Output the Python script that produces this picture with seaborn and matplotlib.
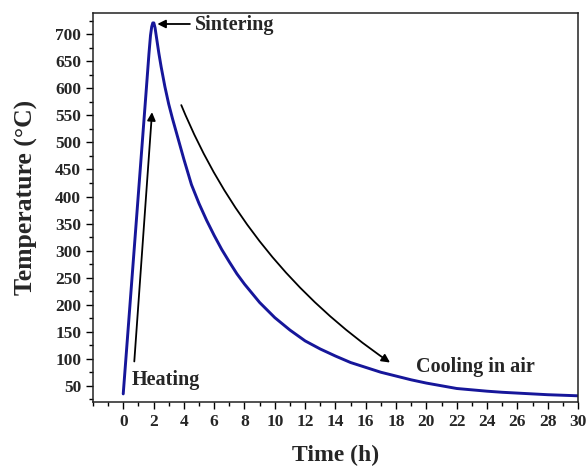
import matplotlib
matplotlib.use("Agg")
import matplotlib.pyplot as plt
import seaborn as sns
import pandas as pd
from matplotlib.ticker import MultipleLocator

# data
time_h = [0, 0.5, 1.0, 1.5, 1.7, 1.8, 1.88, 1.95, 2.02, 2.1, 2.2, 2.35, 2.5, 2.75, 3.0, 3.25, 3.5,
          4, 4.5, 5, 5.5, 6, 6.5, 7, 7.5, 8, 9, 10, 11, 12, 13, 14, 15, 16, 17, 18, 19, 20,
          21, 22, 23, 24, 25, 26, 27, 28, 29, 30]
temp_c = [35, 220, 405, 590, 665, 698, 714, 721, 721, 712, 693, 665, 640, 603, 571, 544, 519,
          469, 422, 387, 356, 328, 302, 279, 257, 238, 204, 176, 153, 133, 118, 105, 93, 84, 75, 68, 61, 55,
          50, 45, 42.5, 40, 38, 36.5, 35, 33.5, 32.5, 31.5]

x_ticks = list(range(0, 31, 2))
y_ticks = list(range(50, 701, 50))

df = pd.DataFrame({"Time (h)": time_h, "Temperature (°C)": temp_c})

sns.set_style("ticks")
plt.rcParams["font.family"] = ["Liberation Serif", "DejaVu Serif"]
plt.rcParams["font.weight"] = "bold"
plt.rcParams["axes.labelweight"] = "bold"

fig = plt.figure(figsize=(5.88, 4.68), dpi=100)
ax = fig.add_axes([0.158, 0.141, 0.825, 0.832])

sns.lineplot(data=df, x="Time (h)", y="Temperature (°C)", ax=ax, sort=False, estimator=None,
             color="#16169a", linewidth=2.1)

ax.set_xlim(-2, 30)
ax.set_ylim(20, 740)
ax.set_xticks(x_ticks)
ax.set_yticks(y_ticks)
ax.xaxis.set_minor_locator(MultipleLocator(1))
ax.yaxis.set_minor_locator(MultipleLocator(25))
ax.tick_params(axis="both", which="major", direction="out", length=5, width=1.0,
               labelsize=12.5, top=False, right=False, color="black")
ax.tick_params(axis="both", which="minor", direction="out", length=3, width=1.0,
               top=False, right=False, color="black")
for lab in ax.get_xticklabels() + ax.get_yticklabels():
    lab.set_fontweight("bold")
for s in ax.spines.values():
    s.set_visible(True)
    s.set_color("#222222")
    s.set_linewidth(1.1)

ax.set_xlabel("Time (h)", fontsize=17, fontweight="bold", labelpad=11)
ax.set_ylabel("Temperature (°C)", fontsize=18.5, fontweight="bold")
ax.yaxis.set_label_coords(-0.113, 0.525)

arrow = dict(arrowstyle="-|>", color="black", lw=1.3, mutation_scale=12, shrinkA=0, shrinkB=0)
ax.annotate("", xy=(2.25, 719), xytext=(4.4, 719), arrowprops=arrow)
ax.text(4.7, 717, "Sintering", fontsize=14.5, fontweight="bold", va="center", ha="left")

ax.annotate("", xy=(1.9, 556), xytext=(0.73, 95), arrowprops=arrow)
ax.text(0.55, 60, "Heating", fontsize=14.5, fontweight="bold", va="center", ha="left")

ax.annotate("", xy=(17.6, 93), xytext=(3.83, 569),
            arrowprops=dict(arrow, connectionstyle="arc3,rad=0.15"))
ax.text(19.3, 84, "Cooling in air", fontsize=14.5, fontweight="bold", va="center", ha="left")

fig.savefig("out.png", dpi=100)
